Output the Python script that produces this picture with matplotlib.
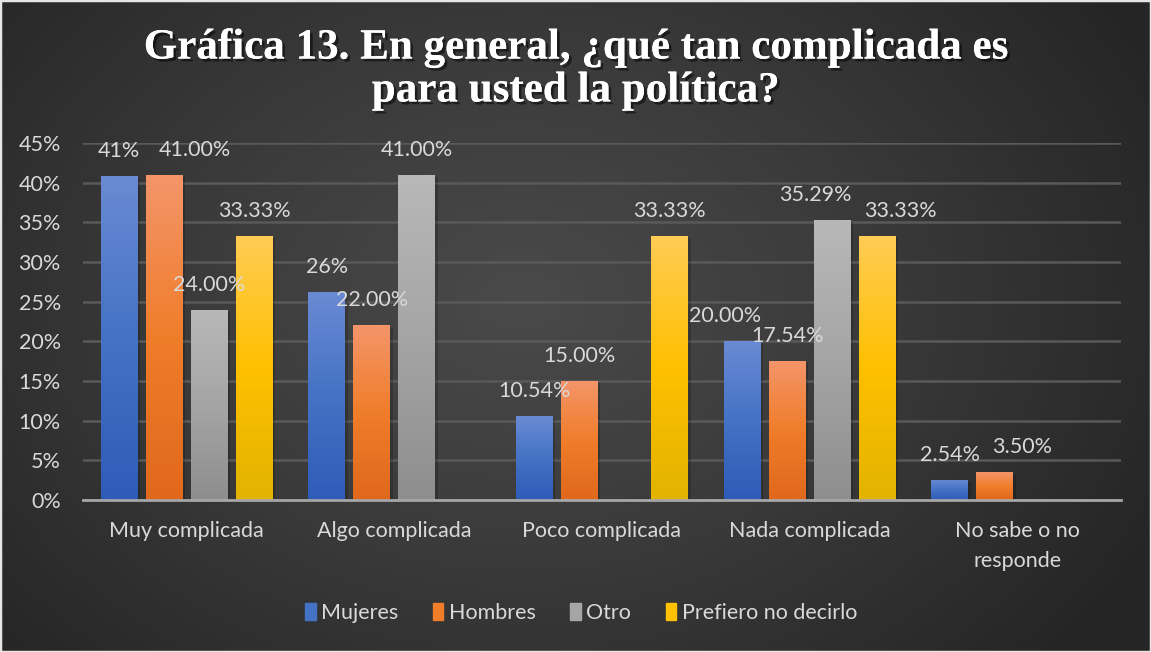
import numpy as np
import matplotlib
matplotlib.use("Agg")
import matplotlib.pyplot as plt
import matplotlib.patheffects as pe
from matplotlib.colors import LinearSegmentedColormap
from matplotlib.patches import Rectangle

categories = ["Muy complicada", "Algo complicada", "Poco complicada",
              "Nada complicada", "No sabe o no\nresponde"]
series = ["Mujeres", "Hombres", "Otro", "Prefiero no decirlo"]

mujeres = [40.8, 26.2, 10.54, 20.00, 2.54]
hombres = [41.00, 22.00, 15.00, 17.54, 3.50]
otro = [24.00, 41.00, 0, 35.29, 0]
prefiero = [33.33, 0, 33.33, 33.33, 0]

mujeres_lbl = ["41%", "26%", "10.54%", "20.00%", "2.54%"]
hombres_lbl = ["41.00%", "22.00%", "15.00%", "17.54%", "3.50%"]
otro_lbl = ["24.00%", "41.00%", "", "35.29%", ""]
prefiero_lbl = ["33.33%", "", "33.33%", "33.33%", ""]

title = "Gráfica 13. En general, ¿qué tan complicada es\npara usted la política?"

values = [mujeres, hombres, otro, prefiero]
labels = [mujeres_lbl, hombres_lbl, otro_lbl, prefiero_lbl]

# gradient colours per series (top, middle, bottom)
grads = [("#6a8ad4", "#4472c4", "#2e5cb8"),
         ("#f4956a", "#f07d2a", "#e0681c"),
         ("#b8b8b8", "#a5a5a5", "#8e8e8e"),
         ("#ffcc55", "#ffc000", "#e2b300")]
# manual label shifts in pixels (as moved in the original)
shift_x = {(1, 0): 31, (0, 3): -17, (2, 3): -17, (3, 3): 23, (1, 4): 27}

txt = "#d9d9d9"
fs = 15.5
plt.rcParams["font.family"] = ["Lato", "DejaVu Sans"]

fig = plt.figure(figsize=(11.51, 6.52), dpi=100)

# radial background
bg = fig.add_axes([0, 0, 1, 1], zorder=-10)
yy, xx = np.mgrid[0:652, 0:1151]
r = np.sqrt(((xx - 520) / 700.0) ** 2 + ((yy - 300) / 520.0) ** 2)
r = np.clip(r, 0, 1)
bgcmap = LinearSegmentedColormap.from_list("bg", ["#4a4a4a", "#3a3a3a", "#262626"])
bg.imshow(r, cmap=bgcmap, aspect="auto", extent=[0, 1, 0, 1], origin="upper")
bg.add_patch(Rectangle((0, 0), 1, 1, transform=bg.transAxes, fill=False,
                       edgecolor="#e6e6e6", linewidth=2.5))
bg.set_axis_off()

ax = fig.add_axes([83 / 1151, 1 - 500 / 652, (1121 - 83) / 1151, (500 - 143) / 652])
ax.set_facecolor("none")

x = np.arange(len(categories))
step = 0.217
width = 0.178
grad = np.linspace(0, 1, 256).reshape(-1, 1)
for i, (vals, lbls) in enumerate(zip(values, labels)):
    pos = x + (i - 1.5) * step
    cmap = LinearSegmentedColormap.from_list("g%d" % i, list(grads[i][::-1]))
    bars = ax.bar(pos, vals, width=width, color=grads[i][1], zorder=3, linewidth=0)
    for j, b in enumerate(bars):
        h = b.get_height()
        if h <= 0:
            continue
        # soft shadow
        ax.add_patch(Rectangle((b.get_x() + 0.012, 0), width, h - 0.3,
                               color="black", alpha=0.18, zorder=2, linewidth=0))
        im = ax.imshow(grad, cmap=cmap, aspect="auto", origin="lower",
                       extent=[b.get_x(), b.get_x() + width, 0, h], zorder=4)
        im.set_clip_path(b)
        if lbls[j]:
            ax.annotate(lbls[j], (pos[j], h), xytext=(shift_x.get((i, j), 0), 25),
                        textcoords="offset pixels", ha="center", va="center",
                        color=txt, fontsize=fs, zorder=6)

ax.set_xlim(-0.5, len(categories) - 0.5)
ax.set_ylim(0, 45)
ax.set_yticks(np.arange(0, 46, 5))
ax.set_yticklabels(["%d%%" % v for v in range(0, 46, 5)])
ax.set_xticks(x)
ax.set_xticklabels(categories, linespacing=1.65)
ax.tick_params(axis="both", length=0, colors=txt, labelsize=fs)
ax.tick_params(axis="y", pad=16)
ax.tick_params(axis="x", pad=15)
ax.grid(axis="y", color="#595959", linewidth=1.8, zorder=0)
for s in ["top", "right", "left"]:
    ax.spines[s].set_visible(False)
ax.spines["bottom"].set_color("#a6a6a6")
ax.spines["bottom"].set_linewidth(2)
ax.spines["bottom"].set_zorder(5)

handles = [Rectangle((0, 0), 1, 1, color=g[1]) for g in grads]
fig.legend(handles, series, loc="center", bbox_to_anchor=(581 / 1151, 1 - 613 / 652),
           ncol=4, frameon=False, fontsize=fs, labelcolor=txt, handlelength=0.5,
           handleheight=0.85, handletextpad=0.25, columnspacing=1.6)

fig.text(0.5, 1 - 70 / 652, title, ha="center", va="center", color="white",
         fontsize=31, fontweight="bold", family=["Liberation Serif", "DejaVu Serif"],
         linespacing=1.17,
         path_effects=[pe.withSimplePatchShadow(offset=(2, -2), shadow_rgbFace="black",
                                                alpha=0.5), pe.Normal()])

fig.savefig("out.png", dpi=100)
